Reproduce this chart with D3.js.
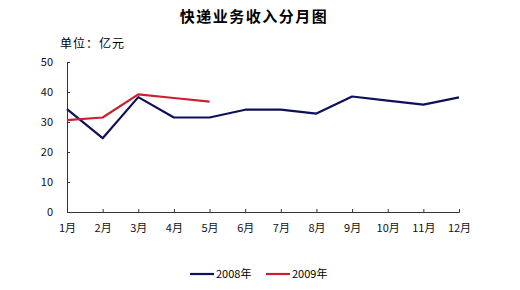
<!DOCTYPE html>
<html>
<head>
<meta charset="utf-8">
<script src="https://cdn.jsdelivr.net/npm/d3@7"></script>
<style>
  body { margin: 0; background: #fff; }
  svg text { font-family: "Noto Sans CJK SC", "DejaVu Sans", sans-serif; }
</style>
</head>
<body>
<svg class="chart"></svg>
<script>
const months = ["1月", "2月", "3月", "4月", "5月", "6月", "7月", "8月", "9月", "10月", "11月", "12月"];
const yTicks = [0, 10, 20, 30, 40, 50];
const sales2008 = [34.3, 24.6, 38.3, 31.5, 31.5, 34.1, 34.1, 32.8, 38.5, 37.1, 35.8, 38.2];
const sales2009 = [30.6, 31.5, 39.2, 38.0, 36.8];
const seriesNames = ["2008年", "2009年"];
const colors = ["#0f0f5c", "#cc2030"];

const margin = {top: 62, right: 61, bottom: 78, left: 67},
      width = 520 - margin.left - margin.right,
      height = 290 - margin.top - margin.bottom;

let svg = d3.select(".chart")
            .attr("width", 520)
            .attr("height", 290);

let chart = svg.append("g")
               .attr("transform", "translate(" + margin.left + "," + margin.top + ")");

let x = d3.scalePoint()
          .domain(months)
          .range([0, width]);

let y = d3.scaleLinear()
          .domain([0, 50])
          .range([height, 0]);

// Title and unit
svg.append("text")
   .attr("x", 254)
   .attr("y", 22)
   .attr("text-anchor", "middle")
   .style("font-size", "15px")
   .style("font-weight", "bold")
   .style("letter-spacing", "1.5px")
   .text("快递业务收入分月图");

svg.append("text")
   .attr("x", 60)
   .attr("y", 48)
   .style("font-size", "12px")
   .style("letter-spacing", "1px")
   .text("单位：亿元");

// y-Axis, ticks pointing inward
let yAxis = chart.append("g")
                 .call(d3.axisLeft(y).tickValues(yTicks).tickSize(-3).tickPadding(14));
yAxis.select(".domain").attr("stroke", "#333");
yAxis.selectAll("line").attr("stroke", "#333");
yAxis.selectAll("text").style("font-size", "11px").attr("fill", "#111");

// x-Axis, ticks pointing up
let xAxis = chart.append("g")
                 .attr("transform", "translate(0," + height + ")")
                 .call(d3.axisBottom(x).tickSize(-3).tickPadding(12));
xAxis.select(".domain").attr("stroke", "#333");
xAxis.selectAll("line").attr("stroke", "#333");
xAxis.selectAll("text").style("font-size", "11px").attr("fill", "#111");

let line = d3.line()
             .x((d, i) => x(months[i]))
             .y((d) => y(d));

[sales2008, sales2009].forEach((s, i) => {
  chart.append("path")
       .datum(s)
       .attr("fill", "none")
       .attr("stroke", colors[i])
       .attr("stroke-width", 2.2)
       .attr("stroke-linejoin", "round")
       .attr("d", line);
});

// Legend
let legend = svg.append("g")
                .attr("transform", "translate(190,274)");
seriesNames.forEach((name, i) => {
  let g = legend.append("g").attr("transform", "translate(" + (i * 76) + ",0)");
  g.append("line")
   .attr("x1", 0).attr("x2", 24)
   .attr("stroke", colors[i])
   .attr("stroke-width", 2.2);
  g.append("text")
   .attr("x", 26)
   .attr("dy", "0.35em")
   .style("font-size", "11px")
   .text(name);
});
</script>
</body>
</html>
